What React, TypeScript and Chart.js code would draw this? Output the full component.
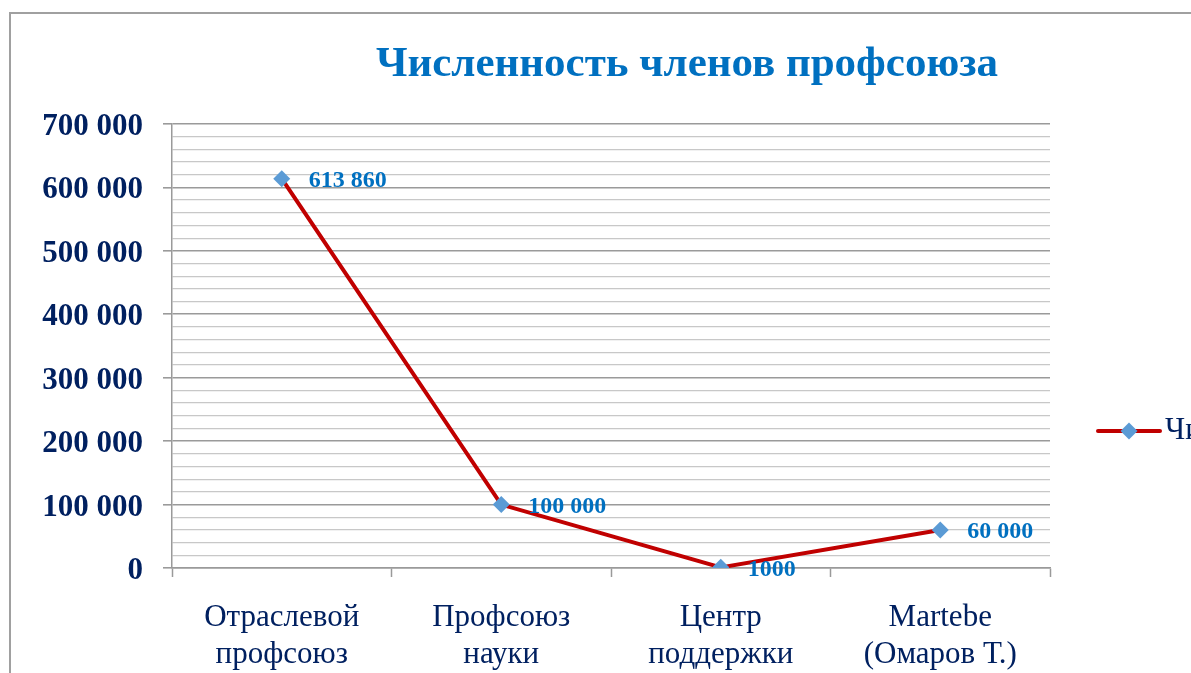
import { useEffect, useRef } from "react";
import { Chart, registerables } from "chart.js";

Chart.register(...registerables);

const chartTitle = "Численность членов профсоюза";
const seriesName = "Численность членов";
const categories = [
  ["Отраслевой", "профсоюз"],
  ["Профсоюз", "науки"],
  ["Центр", "поддержки"],
  ["Martebe", "(Омаров Т.)"],
];
const memberCounts = [613860, 100000, 1000, 60000];
const pointLabels = ["613 860", "100 000", "1000", "60 000"];
const yMin = 0;
const yMax = 700000;
const yMinorStep = 20000;
const yMajorStep = 100000;

const SERIF = "'Liberation Serif', 'Times New Roman', serif";
const NAVY = "#002060";
const BLUE = "#0070C0";
const RED = "#C00000";
const MARKER = "#5B9BD5";
const MAJOR_GRID = "#9a9a9a";
const MINOR_GRID = "#c8c8c8";

const fmt = (v: number) => String(v).replace(/\B(?=(\d{3})+(?!\d))/g, " ");

const titlePlugin = {
  id: "centerTitle",
  afterDraw(chart: any) {
    const ctx = chart.ctx;
    ctx.save();
    ctx.font = `bold 43px ${SERIF}`;
    ctx.fillStyle = BLUE;
    ctx.textAlign = "center";
    ctx.textBaseline = "middle";
    ctx.fillText(chartTitle, chart.width / 2, 51);
    ctx.restore();
  },
};

const dataLabelPlugin = {
  id: "dataLabels",
  afterDatasetsDraw(chart: any) {
    const meta = chart.getDatasetMeta(0);
    const ctx = chart.ctx;
    ctx.save();
    ctx.font = `bold 24px ${SERIF}`;
    ctx.fillStyle = BLUE;
    ctx.textAlign = "left";
    ctx.textBaseline = "middle";
    meta.data.forEach((el: any, i: number) => {
      ctx.fillText(pointLabels[i], el.x + 27, el.y + 2);
    });
    ctx.restore();
  },
};

const legendPlugin = {
  id: "sideLegend",
  afterDraw(chart: any) {
    const ctx = chart.ctx;
    const x0 = chart.chartArea.right + 48;
    const len = 62;
    const y = chart.height / 2;
    ctx.save();
    ctx.strokeStyle = RED;
    ctx.lineWidth = 4;
    ctx.lineCap = "round";
    ctx.beginPath();
    ctx.moveTo(x0, y);
    ctx.lineTo(x0 + len, y);
    ctx.stroke();
    const cx = x0 + len / 2;
    const r = 8.5;
    ctx.fillStyle = MARKER;
    ctx.beginPath();
    ctx.moveTo(cx, y - r);
    ctx.lineTo(cx + r, y);
    ctx.lineTo(cx, y + r);
    ctx.lineTo(cx - r, y);
    ctx.closePath();
    ctx.fill();
    ctx.font = `31px ${SERIF}`;
    ctx.fillStyle = NAVY;
    ctx.textAlign = "left";
    ctx.textBaseline = "middle";
    ctx.fillText(seriesName, x0 + 67, y);
    ctx.restore();
  },
};

export default function App() {
  const ref = useRef<HTMLCanvasElement | null>(null);

  useEffect(() => {
    if (!ref.current) return;
    const chart = new Chart(ref.current, {
      type: "line",
      data: {
        labels: categories as any,
        datasets: [
          {
            label: seriesName,
            data: memberCounts,
            borderColor: RED,
            borderWidth: 4,
            tension: 0,
            pointStyle: "rectRot",
            pointRadius: 8.5,
            pointHoverRadius: 8.5,
            pointBackgroundColor: MARKER,
            pointBorderWidth: 0,
            pointBorderColor: MARKER,
          },
        ],
      },
      plugins: [dataLabelPlugin, legendPlugin, titlePlugin],
      options: {
        animation: false,
        responsive: false,
        layout: { padding: { left: 0, right: 313, top: 110, bottom: 160 } },
        plugins: {
          legend: { display: false },
          tooltip: { enabled: false },
          title: { display: false },
        },
        scales: {
          x: {
            type: "category",
            offset: true,
            afterFit: (s: any) => {
              s.height = 120;
            },
            grid: {
              offset: true,
              drawOnChartArea: false,
              drawTicks: true,
              tickLength: 9,
              tickColor: MAJOR_GRID,
              tickWidth: 1.5,
            },
            border: { display: true, color: MAJOR_GRID, width: 1.5 },
            ticks: {
              color: NAVY,
              font: { family: SERIF, size: 31, lineHeight: 1.2 },
              padding: 22,
              maxRotation: 0,
              autoSkip: false,
            },
          },
          y: {
            min: yMin,
            max: yMax,
            afterFit: (s: any) => {
              s.width = 161;
            },
            grid: {
              color: (c: any) =>
                c.tick && c.tick.value % yMajorStep === 0 ? MAJOR_GRID : MINOR_GRID,
              tickColor: (c: any) =>
                c.tick && c.tick.value % yMajorStep === 0 ? MAJOR_GRID : "rgba(0,0,0,0)",
              lineWidth: (c: any) =>
                c.tick && c.tick.value % yMajorStep === 0 ? 1.6 : 1.3,
              tickLength: 9,
            },
            border: { display: true, color: MAJOR_GRID, width: 1.5 },
            ticks: {
              stepSize: yMinorStep,
              autoSkip: false,
              color: NAVY,
              padding: 20,
              labelOffset: 3,
              font: { family: SERIF, size: 31, weight: "bold" },
              callback: (v: any) => (Number(v) % yMajorStep === 0 ? fmt(Number(v)) : ""),
            },
          },
        },
      } as any,
    });
    return () => chart.destroy();
  }, []);

  return (
    <div
      style={{
        position: "fixed",
        left: 0,
        top: 0,
        width: "100vw",
        height: "100vh",
        overflow: "hidden",
        background: "#fff",
      }}
    >
      <div
        style={{
          position: "absolute",
          left: 9,
          top: 12,
          border: "2px solid #a0a0a0",
          width: 1352,
          height: 834,
        }}
      >
        <canvas ref={ref} width={1352} height={834} style={{ display: "block" }} />
      </div>
    </div>
  );
}
